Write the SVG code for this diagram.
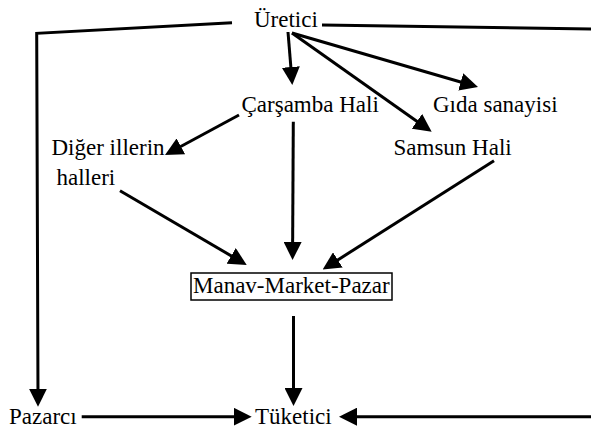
<svg xmlns="http://www.w3.org/2000/svg" width="591" height="427" viewBox="0 0 591 427">
<style>
text{font-family:"Liberation Serif","Times New Roman",serif;font-size:23px;fill:#000}
.c{fill:none;stroke:#000;stroke-width:3;marker-end:url(#ah)}
</style>
<defs>
<marker id="ah" markerUnits="userSpaceOnUse" markerWidth="18" markerHeight="18" refX="8" refY="9" orient="auto" viewBox="0 0 18 18">
<path d="M0,0 L18,9 L0,18 z" fill="#000"/>
</marker>
</defs>
<rect width="591" height="427" fill="#fff"/>
<g id="connectors">
<path class="c" d="M288,32 L291.5,75"/>
<path class="c" d="M292,33 L468.4,84.2"/>
<path class="c" d="M292,33 L423.5,125.9"/>
<path class="c" d="M239,115 L173.8,150.2"/>
<path class="c" d="M293.3,121.7 L292.6,250"/>
<path class="c" d="M120,190.7 L238.1,259.9"/>
<path class="c" d="M494,160.7 L331.1,264.2"/>
<path class="c" d="M293.5,316 L293.5,396"/>
<path class="c" d="M81.7,416.7 L241.7,416.7"/>
<path class="c" d="M232,22.7 L36.7,33.3 L38,396.7"/>
<path class="c" d="M322,25 L593,29 L593,416.7 L349,416.7"/>
</g>
<g id="uretici"><text x="254" y="26.5">Üretici</text></g>
<g id="carsamba"><text x="241.5" y="111.5">Çarşamba Hali</text></g>
<g id="gida"><text x="433" y="111.5">Gıda sanayisi</text></g>
<g id="samsun"><text x="393.5" y="155">Samsun Hali</text></g>
<g id="diger"><text x="51.5" y="155">Diğer illerin</text><text x="56.5" y="185">halleri</text></g>
<g id="manav"><rect x="191" y="273" width="201" height="27" fill="none" stroke="#000" stroke-width="1.5"/><text x="193" y="292.5">Manav-Market-Pazar</text></g>
<g id="pazarci"><text x="9" y="423.5">Pazarcı</text></g>
<g id="tuketici"><text x="255" y="423.5">Tüketici</text></g>
</svg>
